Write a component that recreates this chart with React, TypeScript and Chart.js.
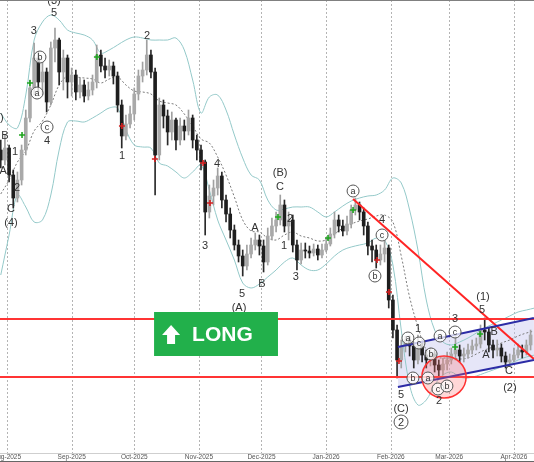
import React, { useEffect, useRef } from 'react';
import { Chart, registerables } from 'chart.js';

Chart.register(...registerables);

// ---- time axis (days since 1 Aug 2025) ----
const X_MIN = -3.36;
const X_MAX = 252.64;
const barStartDay = -3;
const barStepDays = 2;
const bandStartDay = -3;
const bandStepDays = 4;

const monthDays = [0, 31, 61, 92, 122, 153, 184, 212, 243];
const monthLabels = ['Aug-2025', 'Sep-2025', 'Oct-2025', 'Nov-2025', 'Dec-2025', 'Jan-2026', 'Feb-2026', 'Mar-2026', 'Apr-2026'];

// ---- candles ----
const opens = [350,340,352,325,302,320,350,382,412,442,418,428,398,452,460,428,442,418,425,408,415,404,410,418,445,434,430,434,424,395,364,376,386,406,424,430,445,428,345,395,384,368,380,360,374,369,382,360,350,338,288,304,312,324,300,286,270,255,244,234,246,255,260,254,238,264,274,280,295,274,280,255,240,250,249,247,251,245,250,256,266,280,274,269,276,290,295,288,274,254,250,240,246,252,200,170,140,154,160,154,140,154,145,140,146,135,130,136,140,146,150,144,146,150,154,156,170,168,155,150,152,144,138,140,145,150,148,155];
const closes = [340,352,325,302,320,350,382,412,442,418,428,398,452,460,428,442,418,425,408,415,404,410,418,445,434,430,434,424,395,364,376,386,406,424,430,445,428,345,395,384,368,380,360,374,369,382,360,350,338,288,304,312,324,300,286,270,255,244,234,246,255,260,254,238,264,274,280,295,274,280,255,240,250,249,247,251,245,250,256,266,280,274,269,276,290,295,288,274,254,250,240,246,252,200,170,140,154,160,154,140,154,145,140,146,135,130,136,140,146,150,144,146,150,154,156,170,168,155,150,152,144,138,140,145,150,148,155,165];
const highs = [360,365,355,330,328,355,390,420,457,448,438,432,458,472,462,450,445,432,430,422,420,418,425,455,450,442,440,438,428,400,385,394,412,430,438,460,450,432,402,400,390,388,382,382,380,390,385,365,355,340,315,320,332,328,305,292,275,260,250,255,262,267,265,260,272,282,288,305,300,288,285,260,257,257,254,256,255,256,262,272,288,285,280,284,295,302,298,292,278,260,255,255,260,255,205,175,160,164,164,158,165,158,150,152,150,140,142,148,152,165,155,152,156,160,162,175,182,172,160,160,156,148,146,152,156,155,160,170];
const lows = [332,335,318,292,298,315,345,378,405,408,405,388,395,438,415,410,402,404,400,402,398,400,405,412,428,422,424,416,388,352,360,372,380,400,418,425,422,305,340,372,355,360,350,355,360,365,352,340,330,265,282,295,305,292,278,262,250,238,224,230,242,250,245,228,235,260,268,275,268,260,248,230,236,242,242,244,240,242,248,254,262,268,264,265,272,285,280,265,245,238,232,235,238,192,162,122,132,148,144,132,136,138,132,134,128,122,125,130,136,140,138,138,142,146,150,152,160,148,142,144,138,132,134,138,142,142,145,150];

// ---- Bollinger bands (read every 4 days) ----
const upperBand = [387,375,372,405,460,478,485,480,470,467,465,460,447,450,455,460,463,462,460,460,460,462,450,420,387,403,405,390,365,342,325,320,300,290,291,293,293,293,288,283,288,294,299,302,304,305,310,322,317,290,250,200,170,158,155,158,162,167,172,176,180,184,188,190,192];
const middleBand = [306,320,338,349,369,379,395,415,424,423,422,421,417,421,423,415,409,408,406,399,397,395,386,374,361,357,343,325,303,280,269,268,262,260,265,268,264,262,259,260,266,272,276,279,281,284,285,278,244,203,173,150,143,142,142,141,142,146,150,153,157,160,164,167,169];
const lowerBand = [225,265,305,293,278,280,305,350,378,379,378,382,387,392,392,370,355,353,352,337,334,328,322,328,335,310,280,260,240,217,212,216,223,230,238,242,235,230,230,236,244,250,253,255,257,262,260,235,170,115,95,100,115,125,128,123,122,124,127,130,133,136,140,143,145];

// ---- drawn studies ----
const supportLevels = [181, 123];
const trendLine = [[165.9, 301], [252.6, 141]];
const channelUpper = [[187.4, 153], [252.6, 182]];
const channelLower = [[187.4, 113], [252.6, 140]];
const zone = { day: 209.5, price: 123, dayRadius: 10.6, priceRadius: 21 };
const longBox = { fromDay: 70.5, toDay: 129.9, top: 188, bottom: 144, text: 'LONG' };

// [day, price, text, circled]
const waveLabels: [number, number, string, boolean][] = [
  [-4.8, 382, '(5)', false], [-1.0, 364, 'B', false], [-1.9, 329, 'A', false],
  [3.8, 348, '1', false], [4.8, 312, '2', false], [1.9, 291, 'C', false], [1.9, 277, '(4)', false],
  [12.9, 469, '3', false], [15.8, 443, 'b', true], [14.4, 407, 'a', true], [19.2, 373, 'c', true],
  [19.2, 359, '4', false], [22.5, 499, '(3)', false], [22.5, 487, '5', false],
  [67.1, 464, '2', false], [55.1, 344, '1', false], [100.7, 336, '4', false], [94.9, 254, '3', false],
  [112.7, 206, '5', false], [111.2, 192, '(A)', false], [118.9, 272, 'A', false], [122.2, 216, 'B', false],
  [130.9, 327, '(B)', false], [130.9, 313, 'C', false], [135.7, 281, '2', false], [132.8, 254, '1', false],
  [138.5, 223, '3', false], [165.9, 309, 'a', true], [179.8, 280, '4', false], [179.8, 265, 'c', true],
  [176.4, 224, 'b', true], [188.9, 105, '5', false], [188.9, 91, '(C)', false], [188.9, 78, '2', true],
  [197.0, 171, '1', false], [192.2, 162, 'a', true], [197.5, 157, 'c', true], [194.6, 122, 'b', true],
  [203.3, 146, 'b', true], [201.8, 122, 'a', true], [206.6, 111, 'c', true], [210.9, 114, 'b', true],
  [207.1, 99, '2', false], [207.6, 164, 'a', true], [214.8, 168, 'c', true], [214.8, 181, '3', false],
  [228.2, 203, '(1)', false], [227.7, 190, '5', false], [233.5, 168, 'B', false], [229.6, 145, 'A', false],
  [240.7, 129, 'C', false], [241.1, 112, '(2)', false],
];

const buySignals: [number, number][] = [[7.2, 365], [11.0, 417], [43.1, 443], [129.9, 283], [153.9, 262], [165.9, 290], [214.8, 153], [226.8, 166]];
const sellSignals: [number, number][] = [[55.1, 374], [70.9, 341], [94.0, 337], [97.3, 297], [177.4, 240], [183.1, 208], [187.9, 139]];

const FONT = '"Liberation Sans", Arial, sans-serif';

const overlayPlugin = {
  id: 'overlay',
  beforeDatasetsDraw(chart: any) {
    const { ctx, chartArea: a, scales } = chart;
    const x = scales.x;
    ctx.save();
    ctx.strokeStyle = '#b4b4b4';
    ctx.lineWidth = 1;
    ctx.setLineDash([2, 2]);
    monthDays.forEach((d) => {
      const px = Math.round(x.getPixelForValue(d)) + 0.5;
      ctx.beginPath();
      ctx.moveTo(px, a.top);
      ctx.lineTo(px, a.bottom + 3);
      ctx.stroke();
    });
    ctx.restore();
  },
  afterDatasetsDraw(chart: any) {
    const { ctx, scales } = chart;
    const x = scales.x;
    const y = scales.y;
    ctx.save();
    // red zone ellipse
    const cx = x.getPixelForValue(zone.day);
    const cy = y.getPixelForValue(zone.price);
    const rx = Math.abs(x.getPixelForValue(zone.day + zone.dayRadius) - cx);
    const ry = Math.abs(y.getPixelForValue(zone.price + zone.priceRadius) - cy);
    ctx.beginPath();
    ctx.ellipse(cx, cy, rx, ry, 0, 0, Math.PI * 2);
    ctx.fillStyle = 'rgba(255,110,110,0.28)';
    ctx.fill();
    ctx.strokeStyle = '#ff3030';
    ctx.lineWidth = 1.5;
    ctx.stroke();

    // signal markers
    const plus = (d: number, p: number, color: string) => {
      const px = x.getPixelForValue(d);
      const py = y.getPixelForValue(p);
      ctx.strokeStyle = color;
      ctx.lineWidth = 1.6;
      ctx.beginPath();
      ctx.moveTo(px - 3, py); ctx.lineTo(px + 3, py);
      ctx.moveTo(px, py - 3); ctx.lineTo(px, py + 3);
      ctx.stroke();
    };
    buySignals.forEach(([d, p]) => plus(d, p, '#1fa51f'));
    sellSignals.forEach(([d, p]) => plus(d, p, '#d42020'));

    // wave labels
    ctx.textAlign = 'center';
    ctx.textBaseline = 'middle';
    waveLabels.forEach(([d, p, t, circled]) => {
      const px = x.getPixelForValue(d);
      const py = y.getPixelForValue(p);
      if (circled) {
        const r = /\d/.test(t) ? 7 : 6;
        ctx.beginPath();
        ctx.arc(px, py, r, 0, Math.PI * 2);
        ctx.fillStyle = 'rgba(255,255,255,0.75)';
        ctx.fill();
        ctx.strokeStyle = '#555';
        ctx.lineWidth = 1;
        ctx.stroke();
        ctx.fillStyle = '#333';
        ctx.font = (/\d/.test(t) ? '11px ' : '9px ') + FONT;
        ctx.fillText(t, px, py + 0.5);
      } else {
        ctx.fillStyle = '#333';
        ctx.font = '11px ' + FONT;
        ctx.fillText(t, px, py);
      }
    });

    // LONG box
    const bl = x.getPixelForValue(longBox.fromDay);
    const br = x.getPixelForValue(longBox.toDay);
    const bt = y.getPixelForValue(longBox.top);
    const bb = y.getPixelForValue(longBox.bottom);
    ctx.fillStyle = '#22b04b';
    ctx.fillRect(bl, bt, br - bl, bb - bt);
    ctx.fillStyle = '#ffffff';
    const ax = bl + 17;
    ctx.beginPath();
    ctx.moveTo(ax, bt + 13);
    ctx.lineTo(ax + 9, bt + 23);
    ctx.lineTo(ax + 4, bt + 23);
    ctx.lineTo(ax + 4, bt + 32);
    ctx.lineTo(ax - 4, bt + 32);
    ctx.lineTo(ax - 4, bt + 23);
    ctx.lineTo(ax - 9, bt + 23);
    ctx.closePath();
    ctx.fill();
    ctx.font = 'bold 21px ' + FONT;
    ctx.textAlign = 'left';
    ctx.textBaseline = 'middle';
    ctx.fillText(longBox.text, bl + 38, (bt + bb) / 2 + 1);
    ctx.restore();
  },
  afterDraw(chart: any) {
    const { ctx, chartArea: a, scales, width, height } = chart;
    const x = scales.x;
    ctx.save();
    ctx.fillStyle = '#808080';
    ctx.fillRect(0, 0, width, 1);
    ctx.fillStyle = '#cfcfcf';
    ctx.fillRect(0, a.bottom, width, 1);
    ctx.fillStyle = '#666';
    ctx.fillRect(0, height - 1, width, 1);
    ctx.fillStyle = '#555';
    ctx.font = '6.5px ' + FONT;
    ctx.textAlign = 'center';
    ctx.textBaseline = 'middle';
    monthDays.forEach((d, i) => {
      ctx.fillText(monthLabels[i], x.getPixelForValue(d), a.bottom + 4.5);
    });
    ctx.restore();
  },
};

export default function App() {
  const ref = useRef<HTMLCanvasElement>(null);
  useEffect(() => {
    document.body.style.margin = '0';
    const barDays = closes.map((_, i) => barStartDay + barStepDays * i);
    const bandDays = upperBand.map((_, k) => bandStartDay + bandStepDays * k);
    const up = closes.map((c, i) => c >= opens[i]);
    const bodyColors = up.map((u) => (u ? '#a9a9a9' : '#1e1e1e'));
    const wickColors = up.map((u) => (u ? '#a0a0a0' : '#2a2a2a'));
    const pts = (arr: number[][]) => arr.map(([d, p]) => ({ x: d, y: p }));
    const bandLine = (vals: number[], color: string, dash: number[], order: number) => ({
      type: 'line' as const,
      data: vals.map((v, k) => ({ x: bandDays[k], y: v })),
      borderColor: color,
      borderWidth: 1,
      borderDash: dash,
      pointRadius: 0,
      tension: 0.35,
      fill: false,
      order,
    });

    const chart = new Chart(ref.current as HTMLCanvasElement, {
      type: 'bar',
      data: {
        datasets: [
          // channel fill (0,1)
          { type: 'line', data: pts(channelUpper), borderWidth: 0, borderColor: 'rgba(0,0,0,0)', pointRadius: 0, fill: false, order: 20 } as any,
          { type: 'line', data: pts(channelLower), borderWidth: 0, borderColor: 'rgba(0,0,0,0)', pointRadius: 0, fill: '-1', backgroundColor: 'rgba(196,196,238,0.42)', order: 19 } as any,
          bandLine(upperBand, '#94c9c9', [], 15),
          bandLine(lowerBand, '#94c9c9', [], 15),
          bandLine(middleBand, '#7a7a7a', [2, 2], 14),
          {
            type: 'bar',
            data: barDays.map((d, i) => ({ x: d, y: [lows[i], highs[i]] })),
            backgroundColor: wickColors,
            barThickness: 1,
            grouped: false,
            order: 12,
          } as any,
          {
            type: 'bar',
            data: barDays.map((d, i) => ({ x: d, y: [opens[i], closes[i]] })),
            backgroundColor: bodyColors,
            barThickness: 3,
            minBarLength: 1,
            grouped: false,
            order: 11,
          } as any,
          ...supportLevels.map((lv) => ({
            type: 'line',
            data: [{ x: X_MIN, y: lv }, { x: X_MAX, y: lv }],
            borderColor: '#ff3434',
            borderWidth: 2,
            pointRadius: 0,
            fill: false,
            order: 6,
          }) as any),
          { type: 'line', data: pts(trendLine), borderColor: '#ff2424', borderWidth: 2, pointRadius: 0, fill: false, order: 5 } as any,
          { type: 'line', data: pts(channelUpper), borderColor: '#2c2ca6', borderWidth: 2, pointRadius: 0, fill: false, order: 4 } as any,
          { type: 'line', data: pts(channelLower), borderColor: '#2c2ca6', borderWidth: 2, pointRadius: 0, fill: false, order: 4 } as any,
        ],
      },
      options: {
        animation: false,
        responsive: false,
        events: [],
        layout: { padding: 0 },
        plugins: { legend: { display: false }, tooltip: { enabled: false } },
        scales: {
          x: {
            type: 'linear',
            min: X_MIN,
            max: X_MAX,
            offset: false,
            grid: { display: false },
            border: { display: false },
            ticks: { display: false },
            afterFit: (s: any) => { s.height = 9; },
          },
          y: { type: 'linear', min: 47, max: 500, display: false },
        },
      } as any,
      plugins: [overlayPlugin],
    });
    return () => chart.destroy();
  }, []);
  return (
    <div style={{ width: 534, height: 462 }}>
      <canvas ref={ref} width={534} height={462} style={{ display: 'block' }} />
    </div>
  );
}
